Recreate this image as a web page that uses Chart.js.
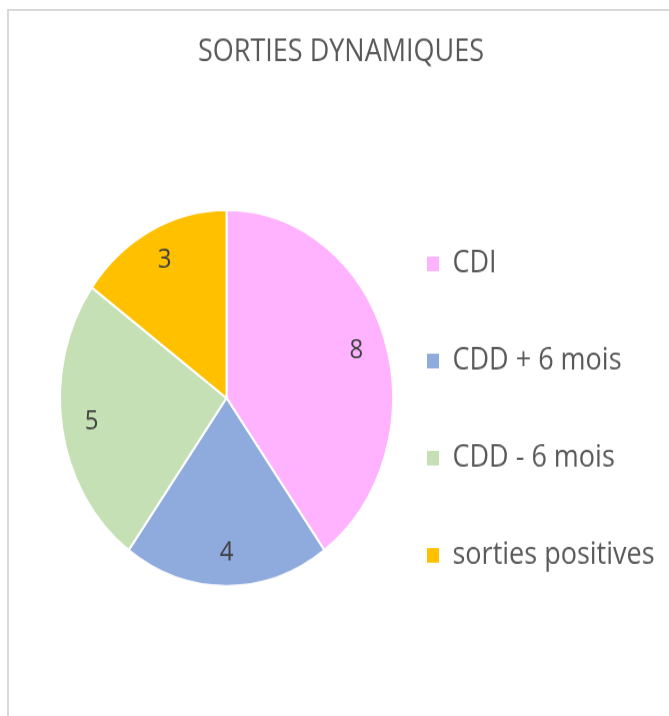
<!DOCTYPE html>
<html>
<head>
<meta charset="utf-8">
<script src="https://cdn.jsdelivr.net/npm/chart.js@4.4.1/dist/chart.umd.min.js"></script>
<style>
  html, body { margin: 0; padding: 0; background: #ffffff; width: 669px; height: 716px; overflow: hidden; }
  #frame { position: absolute; left: 7px; top: 9px; width: 700px; height: 720px; border-left: 2px solid #d9d9d9; border-top: 2px solid #d9d9d9; }
  #wrap { position: absolute; left: 0; top: 0; width: 669px; height: 634px; transform: scaleY(1.13); transform-origin: 0 0; }
</style>
</head>
<body>
<div id="frame"></div>
<div id="wrap"><canvas id="c"></canvas></div>
<script>
const chartTitle = "SORTIES DYNAMIQUES";
const categories = ["CDI", "CDD + 6 mois", "CDD - 6 mois", "sorties positives"];
const values = [8, 4, 5, 3];
const colors = ["#FFB3FF", "#8FAADC", "#C5E0B4", "#FFC000"];

const FONT = "'Open Sans', 'Liberation Sans', sans-serif";

const labelPlugin = {
  id: 'sliceLabels',
  afterLayout(chart) {
    // let the right-hand legend use the full width up to the canvas edge
    const lg = chart.legend;
    if (lg) { lg.right = chart.width; lg.width = lg.right - lg.left; }
  },
  afterDatasetsDraw(chart) {
    const ctx = chart.ctx;
    const meta = chart.getDatasetMeta(0);
    ctx.save();
    ctx.fillStyle = '#404040';
    ctx.font = "24px " + FONT;
    ctx.textAlign = 'center';
    ctx.textBaseline = 'middle';
    meta.data.forEach((arc, i) => {
      const p = arc.getProps(['x', 'y', 'startAngle', 'endAngle', 'outerRadius'], true);
      const mid = (p.startAngle + p.endAngle) / 2;
      const r = p.outerRadius * 0.82;
      ctx.fillText(String(values[i]), p.x + Math.cos(mid) * r, p.y + Math.sin(mid) * r);
    });
    ctx.restore();
  }
};

new Chart(document.getElementById('c'), {
  type: 'pie',
  data: {
    labels: categories,
    datasets: [{
      data: values,
      backgroundColor: colors,
      borderColor: '#ffffff',
      borderWidth: 2,
      radius: 166.5,
      clip: false
    }]
  },
  options: {
    responsive: true,
    maintainAspectRatio: false,
    animation: false,
    layout: { padding: { left: 85, right: 72, top: 0, bottom: 46.6 } },
    plugins: {
      title: {
        display: true,
        text: chartTitle,
        color: '#595959',
        font: { family: FONT, size: 27, weight: 'normal' },
        padding: { top: 30, bottom: 54.6 }
      },
      legend: {
        position: 'right',
        align: 'start',
        fullSize: false,
        maxWidth: 229,
        title: {
          display: true,
          text: ' ',
          font: { family: FONT, size: 10 },
          padding: 16
        },
        labels: {
          color: '#595959',
          font: { family: FONT, size: 27 },
          boxWidth: 12,
          boxHeight: 13,
          padding: 59,
          generateLabels(chart) {
            const items = Chart.overrides.pie.plugins.legend.labels.generateLabels(chart);
            items.forEach(it => { it.lineWidth = 0; it.strokeStyle = 'rgba(0,0,0,0)'; });
            return items;
          }
        }
      },
      tooltip: { enabled: false }
    }
  },
  plugins: [labelPlugin]
});
</script>
</body>
</html>
